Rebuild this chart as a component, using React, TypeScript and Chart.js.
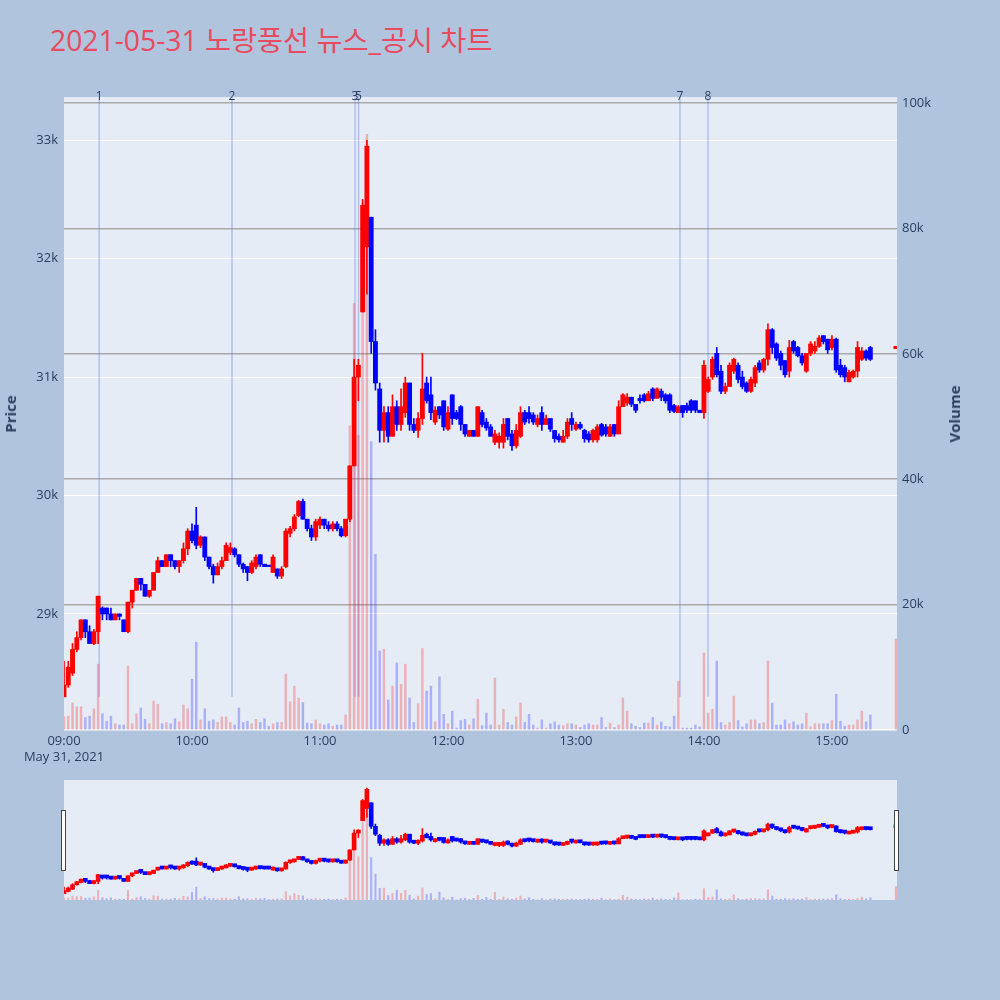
import { useEffect, useRef } from "react";
import { Chart, registerables } from "chart.js";

Chart.register(...registerables);

// 2-minute buckets, 09:00 .. 15:18, plus the 15:30 closing auction
const times = [
  "09:00","09:02","09:04","09:06","09:08","09:10","09:12","09:14","09:16","09:18","09:20","09:22","09:24","09:26","09:28","09:30","09:32","09:34","09:36","09:38","09:40","09:42","09:44","09:46","09:48","09:50","09:52","09:54","09:56","09:58",
  "10:00","10:02","10:04","10:06","10:08","10:10","10:12","10:14","10:16","10:18","10:20","10:22","10:24","10:26","10:28","10:30","10:32","10:34","10:36","10:38","10:40","10:42","10:44","10:46","10:48","10:50","10:52","10:54","10:56","10:58",
  "11:00","11:02","11:04","11:06","11:08","11:10","11:12","11:14","11:16","11:18","11:20","11:22","11:24","11:26","11:28","11:30","11:32","11:34","11:36","11:38","11:40","11:42","11:44","11:46","11:48","11:50","11:52","11:54","11:56","11:58",
  "12:00","12:02","12:04","12:06","12:08","12:10","12:12","12:14","12:16","12:18","12:20","12:22","12:24","12:26","12:28","12:30","12:32","12:34","12:36","12:38","12:40","12:42","12:44","12:46","12:48","12:50","12:52","12:54","12:56","12:58",
  "13:00","13:02","13:04","13:06","13:08","13:10","13:12","13:14","13:16","13:18","13:20","13:22","13:24","13:26","13:28","13:30","13:32","13:34","13:36","13:38","13:40","13:42","13:44","13:46","13:48","13:50","13:52","13:54","13:56","13:58",
  "14:00","14:02","14:04","14:06","14:08","14:10","14:12","14:14","14:16","14:18","14:20","14:22","14:24","14:26","14:28","14:30","14:32","14:34","14:36","14:38","14:40","14:42","14:44","14:46","14:48","14:50","14:52","14:54","14:56","14:58",
  "15:00","15:02","15:04","15:06","15:08","15:10","15:12","15:14","15:16","15:18","15:30",
];

const opens = [
  28300,28400,28500,28700,28800,28950,28850,28750,28850,29050,
  29050,29000,28950,29000,28950,28850,29100,29200,29300,29250,
  29150,29200,29350,29450,29400,29500,29450,29400,29450,29550,
  29700,29750,29580,29650,29480,29400,29330,29400,29450,29520,
  29550,29500,29420,29400,29350,29400,29500,29420,29410,29350,
  29380,29320,29400,29680,29720,29830,29950,29800,29720,29650,
  29750,29800,29750,29720,29760,29720,29660,29800,30250,31000,
  31550,32100,32350,31300,30900,30550,30700,30500,30750,30600,
  30700,30950,30600,30550,30650,30950,30850,30620,30750,30800,
  30560,30850,30700,30750,30600,30500,30550,30500,30700,30620,
  30580,30450,30450,30450,30650,30520,30420,30500,30700,30700,
  30680,30600,30700,30600,30650,30550,30500,30450,30500,30650,
  30560,30600,30550,30520,30470,30470,30600,30580,30500,30600,
  30520,30750,30780,30830,30770,30820,30850,30800,30900,30820,
  30880,30850,30850,30760,30700,30760,30760,30800,30800,30720,
  30700,30880,31000,31200,31050,30880,30920,31050,31100,31000,
  30950,30880,30950,31120,31060,31150,31400,31280,31200,31140,
  31050,31300,31250,31180,31050,31200,31220,31260,31350,31320,
  31250,31320,31100,31080,30960,31000,31050,31150,31220,31250,
  31240,
];

const highs = [
  28600,28600,28750,28850,28950,28950,28900,28870,29150,29060,
  29050,29050,29000,29000,28950,29100,29200,29300,29300,29250,
  29200,29350,29480,29450,29500,29500,29450,29450,29600,29720,
  29760,29900,29660,29650,29480,29420,29430,29480,29600,29600,
  29560,29500,29430,29400,29450,29500,29500,29420,29410,29500,
  29380,29400,29720,29740,29840,29960,29970,29800,29750,29800,
  29820,29800,29780,29780,29780,29740,29800,30250,31150,31150,
  32500,33000,32350,31400,30950,30750,30750,30850,30800,30900,
  31000,30950,30650,30700,31200,31000,31000,30750,30750,30800,
  30750,30850,30720,30760,30600,30550,30550,30750,30720,30650,
  30600,30550,30530,30650,30650,30550,30600,30750,30720,30750,
  30700,30680,30750,30680,30650,30550,30520,30550,30650,30700,
  30620,30620,30560,30540,30560,30600,30610,30600,30600,30600,
  30800,30860,30860,30830,30770,30850,30860,30880,30910,30910,
  30900,30860,30860,30770,30760,30760,30780,30810,30800,30720,
  31140,31000,31170,31250,31100,30950,31120,31160,31120,31050,
  30960,31000,31100,31140,31160,31450,31410,31290,31220,31140,
  31310,31310,31260,31200,31200,31300,31300,31350,31350,31320,
  31350,31330,31150,31100,31060,31060,31300,31250,31230,31260,
  31260,
];

const lows = [
  28300,28380,28480,28680,28780,28800,28750,28740,28750,28950,
  28950,28950,28950,28950,28850,28840,29050,29200,29200,29150,
  29140,29200,29350,29400,29400,29400,29380,29350,29430,29500,
  29600,29550,29560,29450,29380,29260,29330,29380,29450,29500,
  29480,29400,29350,29280,29340,29380,29400,29400,29400,29350,
  29300,29300,29390,29650,29700,29820,29800,29700,29620,29620,
  29720,29720,29700,29700,29700,29650,29650,29780,30250,30800,
  31550,31700,31200,30890,30450,30450,30450,30500,30550,30550,
  30660,30550,30530,30490,30600,30780,30640,30600,30650,30550,
  30550,30600,30640,30550,30500,30500,30500,30500,30580,30550,
  30500,30430,30400,30400,30470,30380,30400,30490,30600,30610,
  30600,30580,30550,30600,30540,30450,30450,30450,30480,30550,
  30550,30560,30450,30450,30450,30450,30500,30500,30500,30500,
  30520,30750,30760,30750,30700,30780,30790,30800,30800,30820,
  30800,30780,30700,30700,30700,30660,30700,30700,30700,30700,
  30650,30870,30980,31000,30860,30860,30920,31030,30950,30900,
  30870,30870,30920,31040,31040,31100,31200,31140,31060,31000,
  31000,31200,31170,31100,31040,31180,31200,31250,31280,31200,
  31230,31040,31000,30960,30960,30990,31000,31140,31140,31140,
  31240,
];

const closes = [
  28400,28550,28700,28800,28950,28850,28750,28850,29150,29000,
  29000,28950,29000,28980,28850,29100,29200,29300,29250,29150,
  29200,29350,29450,29400,29500,29450,29400,29450,29550,29700,
  29620,29580,29650,29480,29400,29330,29400,29450,29580,29560,
  29500,29420,29380,29350,29430,29480,29420,29400,29400,29480,
  29320,29380,29700,29720,29820,29950,29800,29720,29650,29780,
  29800,29750,29720,29760,29720,29660,29800,30250,31000,31100,
  32450,32950,31300,30950,30550,30700,30500,30750,30600,30750,
  30950,30600,30550,30650,30900,30800,30700,30720,30680,30580,
  30700,30650,30650,30600,30520,30550,30500,30750,30600,30570,
  30500,30520,30500,30600,30500,30420,30550,30700,30620,30650,
  30620,30650,30600,30650,30560,30480,30470,30500,30620,30600,
  30600,30570,30480,30470,30550,30580,30510,30520,30580,30520,
  30750,30850,30830,30770,30720,30800,30800,30860,30820,30900,
  30830,30800,30720,30710,30750,30700,30720,30720,30720,30700,
  31100,30980,31150,31020,30880,30920,31100,31150,30980,30920,
  30880,30980,31080,31060,31150,31400,31250,31160,31100,31020,
  31250,31220,31180,31120,31200,31280,31260,31330,31300,31230,
  31320,31060,31020,31000,31040,31050,31250,31220,31160,31150,
  31260,
];

const volumes = [
  2100,2200,4300,3700,3700,2000,2200,3400,10500,2600,
  1400,2200,1000,800,800,10200,1000,2600,3500,1700,
  1000,4600,4100,1000,1200,1000,1800,1300,4000,3400,
  8100,14000,1600,3400,1400,1600,1200,2100,2100,1200,
  800,3500,1200,1400,1000,1700,1200,1800,600,1000,
  1200,1200,8900,4500,7000,5100,4400,1100,1000,1600,
  1000,800,1000,600,800,800,2400,48500,68000,47000,
  84000,95000,46000,28000,12600,12900,4800,7000,10700,7300,
  10500,5100,1200,4200,13000,6200,7000,1300,8500,2500,
  1000,3000,300,1500,1700,800,1800,4900,700,2700,
  800,8300,800,3300,1200,800,2100,4300,1200,2500,
  800,300,1600,300,1000,1300,800,700,1000,1000,
  800,400,800,1000,800,800,2000,400,1100,400,
  800,5100,3000,1000,600,400,1100,1100,2000,800,
  1300,600,500,2200,7800,300,300,300,800,500,
  12300,2700,3300,11000,1200,800,1200,5400,1500,500,
  1000,1600,1600,1000,1200,11000,4300,800,800,1600,
  1000,1300,800,1000,2700,500,1000,1000,1000,1000,
  1500,5700,1400,600,800,800,1600,3000,1300,2400,
  14500,
];

const hourLabels = ["09:00", "10:00", "11:00", "12:00", "13:00", "14:00", "15:00"];
const dateLabel = "May 31, 2021";
const priceTicks = [29000, 30000, 31000, 32000, 33000];
const volumeTicks = [0, 20000, 40000, 60000, 80000, 100000];

// news / disclosure markers
const newsTimes = ["09:16:30", "10:18:45", "11:16:25", "11:18:05", "13:48:45", "14:01:55"];
const newsLabels = ["1", "2", "3", "5", "7", "8"];

const TITLE = "2021-05-31 노랑풍선 뉴스_공시 차트";
const TEXT = "#2a3f5f";
const FONT = '"Open Sans", "Noto Sans CJK KR", sans-serif';
const PLOT_BG = "#e5ecf6";
const PAGE_BG = "#b0c4de";

const PRICE_MIN = 28020;
const PRICE_MAX = 33365;
const VOL_MAX = 100960;
const X_MAX = 390.5;
const NEWS_LINE_LOW = 28300;

const toMinutes = (s: string) => {
  const p = s.split(":").map(Number);
  return (p[0] - 9) * 60 + p[1] + (p[2] || 0) / 60;
};

const xs = times.map(toMinutes);
const isUp = (i: number) => closes[i] >= opens[i];

function buildDatasets(bodyW: number, wickW: number, volW: number, minBody: number): any[] {
  return [
    {
      label: "body",
      data: xs.map((x, i) => ({ x, y: [opens[i], closes[i]] })),
      backgroundColor: xs.map((_, i) => (isUp(i) ? "#ff0000" : "#0000ff")),
      barThickness: bodyW,
      minBarLength: minBody,
      grouped: false,
      yAxisID: "y",
      order: 1,
    },
    {
      label: "wick",
      data: xs.map((x, i) => ({ x, y: [lows[i], highs[i]] })),
      backgroundColor: xs.map((_, i) => (isUp(i) ? "#ff0000" : "#0000ff")),
      barThickness: wickW,
      minBarLength: 1,
      grouped: false,
      yAxisID: "y",
      order: 2,
    },
    {
      label: "volume",
      data: xs.map((x, i) => ({ x, y: volumes[i] })),
      backgroundColor: xs.map((_, i) => (isUp(i) ? "rgba(255,0,0,0.25)" : "rgba(0,0,255,0.25)")),
      barThickness: volW,
      grouped: false,
      yAxisID: "v",
      order: 3,
    },
  ];
}

const plotBgPlugin = {
  id: "plotBg",
  beforeDraw(chart: any) {
    const { ctx, chartArea } = chart;
    ctx.save();
    ctx.fillStyle = PLOT_BG;
    ctx.fillRect(chartArea.left, chartArea.top, chartArea.right - chartArea.left, chartArea.bottom - chartArea.top);
    ctx.restore();
  },
};

const newsPlugin = {
  id: "newsLines",
  beforeDatasetsDraw(chart: any) {
    const { ctx, chartArea, scales } = chart;
    const bottom = scales.y.getPixelForValue(NEWS_LINE_LOW);
    ctx.save();
    ctx.strokeStyle = "rgba(80,110,230,0.35)";
    ctx.lineWidth = 1.5;
    newsTimes.forEach((t) => {
      const x = scales.x.getPixelForValue(toMinutes(t));
      ctx.beginPath();
      ctx.moveTo(x, chartArea.top);
      ctx.lineTo(x, bottom);
      ctx.stroke();
    });
    ctx.restore();
  },
  afterDatasetsDraw(chart: any) {
    const { ctx, chartArea, scales } = chart;
    ctx.save();
    ctx.fillStyle = TEXT;
    ctx.font = `12px ${FONT}`;
    ctx.textAlign = "center";
    ctx.textBaseline = "middle";
    newsTimes.forEach((t, i) => {
      const x = scales.x.getPixelForValue(toMinutes(t));
      ctx.fillText(newsLabels[i], x, chartArea.top);
    });
    ctx.restore();
  },
};

const kLabel = (v: number) => (v === 0 ? "0" : `${v / 1000}k`);

export default function App() {
  const mainRef = useRef<HTMLCanvasElement>(null);
  const sliderRef = useRef<HTMLCanvasElement>(null);

  useEffect(() => {
    Chart.defaults.font.family = FONT;
    const tickFont = { size: 13, family: FONT };

    const main = new Chart(mainRef.current as HTMLCanvasElement, {
      type: "bar",
      data: { datasets: buildDatasets(4.2, 1, 1.8, 1.5) },
      options: {
        animation: false,
        responsive: true,
        maintainAspectRatio: false,
        events: [],
        layout: { padding: { top: 97, left: 0, right: 0, bottom: 0 } },
        plugins: { legend: { display: false }, tooltip: { enabled: false } },
        scales: {
          x: {
            type: "linear",
            min: 0,
            max: X_MAX,
            offset: false,
            grid: { display: false, drawTicks: false },
            border: { display: false },
            afterBuildTicks: (s: any) => {
              s.ticks = hourLabels.map((h) => ({ value: toMinutes(h) }));
            },
            afterFit: (s: any) => {
              s.height = 40;
            },
            ticks: {
              autoSkip: false,
              maxRotation: 0,
              padding: 3,
              color: TEXT,
              font: { ...tickFont, lineHeight: 1.25 },
              callback: (_v: any, i: number) => (i === 0 ? [hourLabels[0], dateLabel] : hourLabels[i]),
            },
          },
          y: {
            type: "linear",
            position: "left",
            min: PRICE_MIN,
            max: PRICE_MAX,
            afterBuildTicks: (s: any) => {
              s.ticks = priceTicks.map((v) => ({ value: v }));
            },
            afterFit: (s: any) => {
              s.width = 64;
            },
            grid: { color: "#ffffff", lineWidth: 1, drawTicks: false },
            border: { display: false },
            ticks: { padding: 6, color: TEXT, font: tickFont, callback: (v: any) => kLabel(Number(v)) },
          },
          v: {
            type: "linear",
            position: "right",
            min: 0,
            max: VOL_MAX,
            afterBuildTicks: (s: any) => {
              s.ticks = volumeTicks.map((v) => ({ value: v }));
            },
            afterFit: (s: any) => {
              s.width = 103;
            },
            grid: {
              color: (c: any) => (c.tick && c.tick.value === 0 ? "#ffffff" : "#a9a9a9"),
              lineWidth: 1.5,
              drawTicks: false,
            },
            border: { display: false },
            ticks: { padding: 5, color: TEXT, font: tickFont, callback: (v: any) => kLabel(Number(v)) },
          },
        },
      } as any,
      plugins: [plotBgPlugin, newsPlugin],
    });

    const slider = new Chart(sliderRef.current as HTMLCanvasElement, {
      type: "bar",
      data: { datasets: buildDatasets(4, 1, 1.5, 3) },
      options: {
        animation: false,
        responsive: true,
        maintainAspectRatio: false,
        events: [],
        layout: { padding: { top: 0, left: 64, right: 103, bottom: 0 } },
        plugins: { legend: { display: false }, tooltip: { enabled: false } },
        scales: {
          x: { type: "linear", min: 0, max: X_MAX, offset: false, display: false },
          y: { type: "linear", min: PRICE_MIN, max: PRICE_MAX, display: false },
          v: { type: "linear", min: 0, max: 130000, display: false },
        },
      } as any,
      plugins: [plotBgPlugin],
    });

    return () => {
      main.destroy();
      slider.destroy();
    };
  }, []);

  const handle: React.CSSProperties = {
    position: "absolute",
    top: 810,
    width: 3,
    height: 59,
    background: "#ffffff",
    border: "1px solid #444444",
  };

  const axisTitle: React.CSSProperties = {
    position: "absolute",
    top: 414,
    transform: "translate(-50%, -50%) rotate(-90deg)",
    fontFamily: FONT,
    fontSize: 15,
    fontWeight: "bold",
    color: TEXT,
    whiteSpace: "nowrap",
  };

  return (
    <div style={{ position: "absolute", left: 0, top: 0, width: 1000, height: 1000, background: PAGE_BG, overflow: "hidden" }}>
      <div
        style={{
          position: "absolute",
          left: 50,
          top: 26,
          fontFamily: FONT,
          fontSize: 28.3,
          lineHeight: "28px",
          color: "#e94a5f",
          whiteSpace: "nowrap",
        }}
      >
        {TITLE}
      </div>
      <div style={{ position: "absolute", left: 0, top: 0, width: 1000, height: 770 }}>
        <canvas ref={mainRef}></canvas>
      </div>
      <div style={{ position: "absolute", left: 0, top: 780, width: 1000, height: 120 }}>
        <canvas ref={sliderRef}></canvas>
      </div>
      <div style={{ ...handle, left: 61 }}></div>
      <div style={{ ...handle, left: 894 }}></div>
      <div style={{ ...axisTitle, left: 10 }}>Price</div>
      <div style={{ ...axisTitle, left: 954 }}>Volume</div>
    </div>
  );
}
